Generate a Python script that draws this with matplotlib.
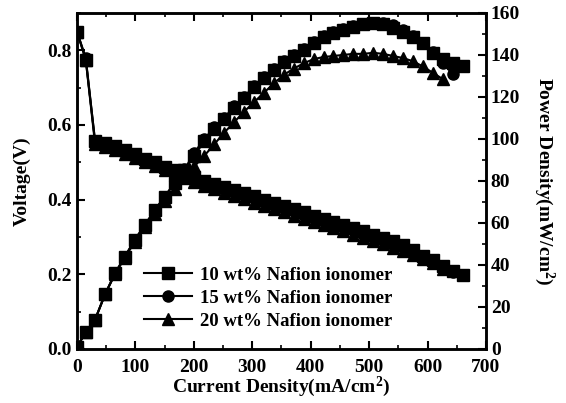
import matplotlib
matplotlib.use("Agg")
import matplotlib.pyplot as plt
from matplotlib.ticker import MultipleLocator

plt.rcParams["font.family"] = ["Liberation Serif", "DejaVu Serif"]
plt.rcParams["font.weight"] = "bold"
plt.rcParams["axes.labelweight"] = "bold"
plt.rcParams["mathtext.fontset"] = "custom"
plt.rcParams["mathtext.bf"] = "Liberation Serif:bold"
plt.rcParams["mathtext.rm"] = "Liberation Serif:bold"
plt.rcParams["mathtext.default"] = "bf"

# Current density grid (mA/cm2), shared by the three samples
current = [0, 15, 31, 48, 65, 82, 99, 116, 133, 150, 167, 184, 201, 218, 235,
           252, 269, 286, 303, 320, 337, 354, 371, 388, 405, 422, 439, 456,
           473, 490, 507, 524, 541, 558, 575, 592, 609, 626, 643, 660]

labels = ["10 wt% Nafion ionomer", "15 wt% Nafion ionomer",
          "20 wt% Nafion ionomer"]
markers = ["s", "o", "^"]

x_ticks = [0, 100, 200, 300, 400, 500, 600, 700]
v_ticks = [0.0, 0.2, 0.4, 0.6, 0.8]
p_ticks = [0, 20, 40, 60, 80, 100, 120, 140, 160]

# Voltage (V)
v_10 = [0.85, 0.775, 0.557, 0.551, 0.543, 0.532, 0.522, 0.51, 0.5, 0.488,
        0.478, 0.468, 0.46, 0.451, 0.443, 0.434, 0.425, 0.417, 0.409, 0.4,
        0.392, 0.383, 0.374, 0.366, 0.357, 0.349, 0.34, 0.332, 0.323, 0.315,
        0.306, 0.297, 0.288, 0.278, 0.266, 0.25, 0.237, 0.222, 0.21, 0.198]
v_15 = [0.85, 0.78, 0.555, 0.548, 0.54, 0.529, 0.518, 0.507, 0.497, 0.486,
        0.476, 0.466, 0.457, 0.448, 0.439, 0.43, 0.421, 0.412, 0.404, 0.395,
        0.386, 0.377, 0.369, 0.36, 0.352, 0.343, 0.335, 0.326, 0.318, 0.309,
        0.3, 0.291, 0.282, 0.272, 0.262, 0.25, 0.238, 0.222, 0.205]
v_20 = [0.85, 0.775, 0.548, 0.542, 0.534, 0.523, 0.512, 0.5, 0.489, 0.478,
        0.467, 0.457, 0.447, 0.437, 0.428, 0.419, 0.41, 0.401, 0.392, 0.383,
        0.374, 0.366, 0.357, 0.349, 0.34, 0.332, 0.323, 0.315, 0.306, 0.298,
        0.289, 0.28, 0.271, 0.262, 0.252, 0.242, 0.231, 0.214]

# Power density (mW/cm2)
p_10 = [1, 8, 14, 26, 36, 44, 52, 59, 66, 72.5, 79, 85, 92, 99, 104.5, 109.5,
        114.5, 119.5, 124.5, 129, 133, 136.5, 139.5, 142.5, 145.5, 148.5,
        150.5, 152, 153.5, 154.5, 155, 154.5, 153, 151, 148.5, 145.5, 141,
        138, 136, 134.5]
p_15 = [1, 8, 14, 26, 36, 44, 52, 59, 66, 72.5, 79, 85.5, 93.5, 100, 105.5,
        110, 115.5, 120, 125, 129.5, 133.5, 137, 140, 143, 146, 149, 151,
        152.5, 153.7, 154.5, 155, 155, 154, 152, 149, 145.5, 141.5, 136, 131]
p_20 = [1, 8, 14, 26, 35.5, 43.5, 51, 58, 64.5, 70.5, 76, 82, 87, 92, 97.5,
        103, 108, 113, 117.5, 122, 126.5, 130.5, 133.5, 136, 138, 139, 139.5,
        140, 140.5, 140.5, 141, 140.5, 139.5, 138.5, 137, 134.5, 131.5, 128.5]

voltages = [v_10, v_15, v_20]
powers = [p_10, p_15, p_20]

fig = plt.figure(figsize=(5.66, 4.03), dpi=100)
ax = fig.add_axes([0.136, 0.134, 0.7226, 0.834])
ax2 = ax.twinx()

handles = []
for v, p, m, lab in zip(voltages, powers, markers, labels):
    ax.plot(current[:len(v)], v, color="black", marker=m, markersize=8,
            linewidth=1.5)
    h, = ax2.plot(current[:len(p)], p, color="black", marker=m, markersize=8,
                  linewidth=1.5, label=lab)
    handles.append(h)

ax.set_xlim(0, 700)
ax.set_ylim(0, 0.9)
ax2.set_ylim(0, 160)

bold = {"fontweight": "bold", "fontsize": 14}
ax.set_xticks(x_ticks, [str(t) for t in x_ticks], **bold)
ax.set_yticks(v_ticks, [f"{t:.1f}" for t in v_ticks], **bold)
ax2.set_yticks(p_ticks, [str(t) for t in p_ticks], **bold)
ax.xaxis.set_minor_locator(MultipleLocator(50))
ax.yaxis.set_minor_locator(MultipleLocator(0.1))
ax2.yaxis.set_minor_locator(MultipleLocator(10))

ax.tick_params(axis="x", which="both", direction="in", top=True, pad=7)
ax.tick_params(axis="y", which="both", direction="in", right=False)
ax2.tick_params(axis="y", which="both", direction="in")
for a in (ax, ax2):
    a.tick_params(which="major", length=6, width=1.5)
    a.tick_params(which="minor", length=3, width=1.2)
    for s in a.spines.values():
        s.set_linewidth(1.8)

ax.set_xlabel("Current Density(mA/cm$^{2}$)", fontsize=14,
              fontweight="bold", labelpad=-1)
ax.set_ylabel("Voltage(V)", fontsize=14, fontweight="bold", labelpad=12)
ax2.set_ylabel("Power Density(mW/cm$^{2}$)", fontsize=14, fontweight="bold",
               rotation=-90, labelpad=26)

ax2.legend(handles=handles, loc="lower left", bbox_to_anchor=(0.14, 0.03),
           frameon=False, handlelength=2.6, borderpad=0,
           labelspacing=0.3, handletextpad=0.4,
           prop={"weight": "bold", "size": 13.5})

fig.savefig("out.png", dpi=100)
